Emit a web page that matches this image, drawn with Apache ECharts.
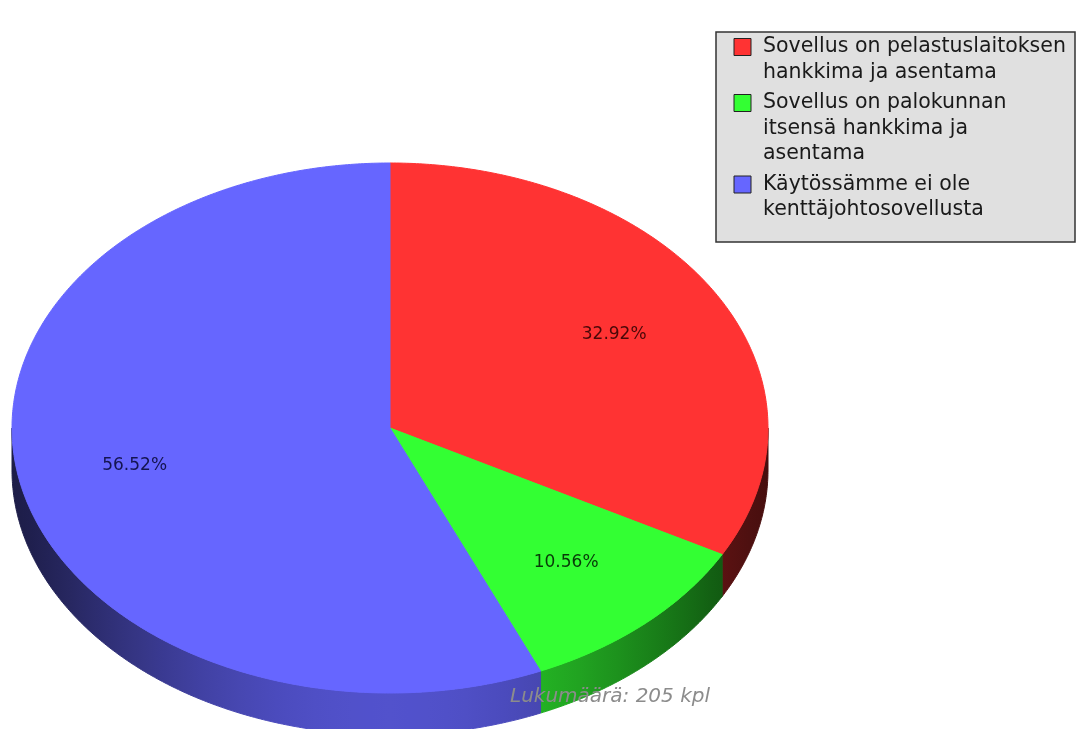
<!DOCTYPE html>
<html>
<head>
<meta charset="utf-8">
<script src="https://cdn.jsdelivr.net/npm/echarts@6/dist/echarts.min.js"></script>
<style>
  html, body { margin: 0; padding: 0; background: #ffffff; }
  #chart { width: 1079px; height: 729px; }
</style>
</head>
<body>
<div id="chart"></div>
<script>
// Answer categories (legend text, wrapped as shown in the legend box)
const categories = [
  'Sovellus on pelastuslaitoksen hankkima ja asentama',
  'Sovellus on palokunnan itsensä hankkima ja asentama',
  'Käytössämme ei ole kenttäjohtosovellusta'
];
const legendLines = [
  ['Sovellus on pelastuslaitoksen', 'hankkima ja asentama'],
  ['Sovellus on palokunnan', 'itsensä hankkima ja', 'asentama'],
  ['Käytössämme ei ole', 'kenttäjohtosovellusta']
];
// Share of answers, percent
const sharesPct = [32.92, 10.56, 56.52];
// Number of respondents
const totalCount = 205;

const topColors = ['#ff3333', '#33ff33', '#6666ff'];
const labelColors = ['#4a0808', '#083a08', '#141450'];

// Tilted pie geometry (top face ellipse and wall height)
const PIE = { cx: 390, cy: 428, rx: 378, ry: 265, depth: 42 };

const sumShares = sharesPct.reduce((a, b) => a + b, 0);
const startAngles = [];
(function () {
  let acc = 0;
  sharesPct.forEach(v => { startAngles.push(acc / sumShares * 360); acc += v; });
})();

function pt(theta, r) {
  const t = theta * Math.PI / 180;
  return [PIE.cx + PIE.rx * r * Math.sin(t), PIE.cy - PIE.ry * r * Math.cos(t)];
}

function shade(hex, f) {
  const n = parseInt(hex.slice(1), 16);
  const r = Math.round(((n >> 16) & 255) * f);
  const g = Math.round(((n >> 8) & 255) * f);
  const b = Math.round((n & 255) * f);
  return 'rgb(' + r + ',' + g + ',' + b + ')';
}

// Wall lighting: brightest at the front, darker towards the left/right rims
function wallGradient(color) {
  const stops = [];
  for (let k = 0; k <= 40; k++) {
    const u = k / 40;
    const x = -1 + 2 * u;
    const f = 0.28 + 0.52 * Math.pow(1 - x * x, 1.3);
    stops.push({ offset: u, color: shade(color, f) });
  }
  return new echarts.graphic.LinearGradient(PIE.cx - PIE.rx, 0, PIE.cx + PIE.rx, 0, stops, true);
}

function renderWall(params, api) {
  const i = params.dataIndex;
  const start = startAngles[i];
  const end = start + api.value(0) / sumShares * 360;
  const a = Math.max(start, 90), b = Math.min(end, 270);
  if (a >= b) return { type: 'group', children: [] };
  const upper = [], lower = [];
  for (let th = a; th < b; th += 0.5) { upper.push(pt(th, 1)); }
  upper.push(pt(b, 1));
  for (let k = upper.length - 1; k >= 0; k--) { lower.push([upper[k][0], upper[k][1] + PIE.depth]); }
  const grad = wallGradient(topColors[i]);
  return {
    type: 'polygon',
    shape: { points: upper.concat(lower) },
    style: { fill: grad, stroke: grad, lineWidth: 1 }
  };
}

function renderTop(params, api) {
  const i = params.dataIndex;
  const v = api.value(0);
  const start = startAngles[i];
  const end = start + v / sumShares * 360;
  const pts = [[PIE.cx, PIE.cy]];
  for (let th = start; th < end; th += 0.5) { pts.push(pt(th, 1)); }
  pts.push(pt(end, 1));
  const mid = (start + end) / 2;
  const lp = pt(mid, 0.69);
  return {
    type: 'group',
    children: [
      {
        type: 'polygon',
        shape: { points: pts },
        style: { fill: topColors[i], stroke: topColors[i], lineWidth: 1 }
      },
      {
        type: 'text',
        x: lp[0], y: lp[1],
        style: {
          text: v.toFixed(2) + '%',
          fontFamily: 'DejaVu Sans',
          fontSize: 17,
          fill: labelColors[i],
          align: 'center',
          verticalAlign: 'middle'
        }
      }
    ]
  };
}

const seriesData = sharesPct.map((v, i) => ({ name: categories[i], value: v }));

// Legend box drawn as graphic elements
const legendLineHeight = 25.5;
const legendItemGap = 5;
const legendFirstCenter = 47;
const legendGraphics = [{
  type: 'rect',
  shape: { x: 716, y: 32, width: 359, height: 210 },
  style: { fill: '#e0e0e0', stroke: '#333333', lineWidth: 1.5 }
}];
(function () {
  let c = legendFirstCenter;
  legendLines.forEach((lines, i) => {
    legendGraphics.push({
      type: 'rect',
      shape: { x: 734, y: c - 8.5, width: 17, height: 17 },
      style: { fill: topColors[i], stroke: '#222222', lineWidth: 1 }
    });
    legendGraphics.push({
      type: 'text',
      x: 763, y: c - legendLineHeight / 2,
      style: {
        text: lines.join('\n'),
        fontFamily: 'DejaVu Sans',
        fontSize: 20.5,
        lineHeight: legendLineHeight,
        fill: '#1a1a1a',
        verticalAlign: 'top'
      }
    });
    c += lines.length * legendLineHeight + legendItemGap;
  });
})();

const chart = echarts.init(document.getElementById('chart'), null, { renderer: 'canvas' });
chart.setOption({
  backgroundColor: '#ffffff',
  animation: false,
  title: {
    text: 'Lukumäärä: ' + totalCount + ' kpl',
    left: 510,
    top: 686,
    padding: 0,
    textStyle: {
      fontFamily: 'DejaVu Sans',
      fontSize: 20,
      fontStyle: 'italic',
      fontWeight: 'normal',
      color: '#8c8c8c',
      lineHeight: 22
    }
  },
  graphic: legendGraphics,
  series: [
    {
      type: 'custom',
      name: 'wall',
      coordinateSystem: 'none',
      renderItem: renderWall,
      data: seriesData,
      z: 1,
      silent: true
    },
    {
      type: 'custom',
      name: 'top',
      coordinateSystem: 'none',
      renderItem: renderTop,
      data: seriesData,
      z: 2,
      silent: true
    }
  ]
});
</script>
</body>
</html>
